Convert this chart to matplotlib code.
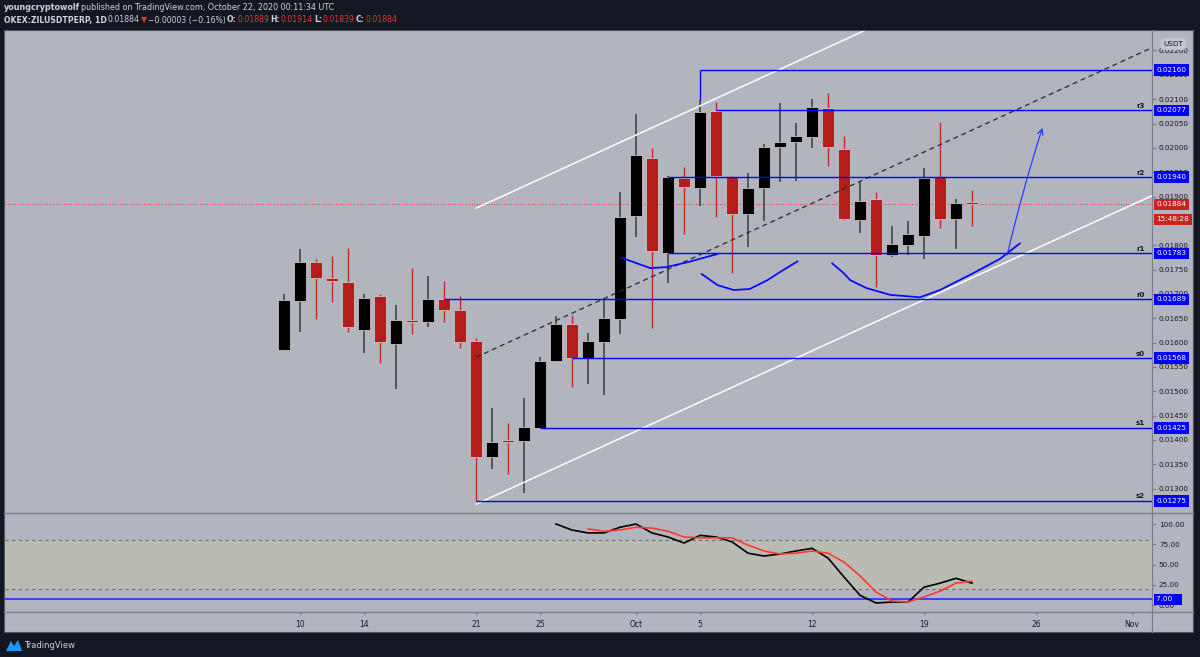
import numpy as np
import pandas as pd
import matplotlib
matplotlib.use("Agg")
import matplotlib.pyplot as plt
import matplotlib.dates as mdates
from matplotlib.patches import Rectangle, Polygon
from matplotlib.lines import Line2D
from matplotlib.transforms import blended_transform_factory

W, H = 1200, 657

# daily candles, OKEX:ZILUSDTPERP
dates = pd.date_range("2020-09-09", "2020-10-22", freq="D")
opens = [0.01585, 0.01685, 0.01765, 0.01733, 0.01724, 0.01626, 0.01696, 0.01597, 0.01646, 0.01642,
         0.01689, 0.01667, 0.01603, 0.01365, 0.01397, 0.01398, 0.01425, 0.01562, 0.01638, 0.01568,
         0.01601, 0.01648, 0.01860, 0.01979, 0.01783, 0.01938, 0.01918, 0.02076, 0.01940, 0.01864,
         0.01918, 0.02002, 0.02012, 0.02022, 0.02082, 0.01998, 0.01852, 0.01895, 0.01780, 0.01800,
         0.01819, 0.01940, 0.01854, 0.01889]
highs = [0.01700, 0.01792, 0.01772, 0.01778, 0.01794, 0.01700, 0.01700, 0.01677, 0.01753, 0.01737,
         0.01726, 0.01696, 0.01609, 0.01465, 0.01435, 0.01486, 0.01570, 0.01654, 0.01656, 0.01620,
         0.01689, 0.01909, 0.02070, 0.02000, 0.01942, 0.01961, 0.02098, 0.02094, 0.01942, 0.01948,
         0.02008, 0.02092, 0.02051, 0.02100, 0.02113, 0.02024, 0.01932, 0.01909, 0.01839, 0.01850,
         0.01959, 0.02053, 0.01895, 0.01914]
lows = [0.01585, 0.01622, 0.01648, 0.01683, 0.01622, 0.01578, 0.01558, 0.01504, 0.01617, 0.01632,
        0.01642, 0.01589, 0.01275, 0.01340, 0.01330, 0.01291, 0.01424, 0.01560, 0.01509, 0.01515,
        0.01492, 0.01617, 0.01817, 0.01630, 0.01722, 0.01823, 0.01880, 0.01858, 0.01743, 0.01797,
        0.01850, 0.01930, 0.01932, 0.02000, 0.01963, 0.01852, 0.01825, 0.01714, 0.01776, 0.01780,
        0.01772, 0.01835, 0.01792, 0.01839]
closes = [0.01687, 0.01765, 0.01733, 0.01726, 0.01632, 0.01691, 0.01601, 0.01646, 0.01642, 0.01689,
          0.01667, 0.01601, 0.01365, 0.01396, 0.01395, 0.01426, 0.01562, 0.01638, 0.01568, 0.01603,
          0.01650, 0.01858, 0.01985, 0.01788, 0.01940, 0.01920, 0.02074, 0.01942, 0.01864, 0.01918,
          0.02002, 0.02012, 0.02024, 0.02084, 0.02002, 0.01854, 0.01891, 0.01780, 0.01802, 0.01823,
          0.01938, 0.01854, 0.01887, 0.01884]
last_price = 0.01884

# stoch rsi (lower pane)
k_dates = pd.date_range("2020-09-26", "2020-10-22", freq="D")
stoch_k = [100, 92.6, 89, 89, 96, 100, 89, 84, 76.5, 86, 84, 78, 64, 60.5, 63, 66.7, 70, 58,
           34.6, 12, 2.5, 3.7, 3.7, 22, 27, 33, 27]
d_dates = pd.date_range("2020-09-28", "2020-10-22", freq="D")
stoch_d = [94, 91, 92.6, 96, 95, 91, 84, 83, 83, 83, 74, 66.7, 63, 64, 66.7, 64, 53, 36, 16, 5,
           3.7, 10, 17, 27, 29.6]
stoch_level = 7.00

# horizontal levels drawn by the author: (name, price, start date)
level_names = ["", "r3", "r2", "r1", "r0", "s0", "s1", "s2"]
level_prices = [0.02160, 0.02077, 0.01940, 0.01783, 0.01689, 0.01568, 0.01425, 0.01275]
level_starts = ["2020-10-05", "2020-10-06", "2020-10-03", "2020-10-03", "2020-09-19",
                "2020-09-27", "2020-09-25", "2020-09-21"]

# drawings, x in days after Sep 9
chan_x = [12, 54.2]
chan_upper = [0.01876, 0.02510]
chan_mid = [0.01570, 0.02205]
chan_lower = [0.01268, 0.01901]
curve1_x = [21.1, 22.9, 23.9, 25.2, 27.1]
curve1_y = [0.01774, 0.01753, 0.01755, 0.01765, 0.01782]
curve2_x = [26.1, 27.1, 28.1, 29.1, 30.2, 31.2, 32.1]
curve2_y = [0.01741, 0.01718, 0.01708, 0.01710, 0.01728, 0.01749, 0.01767]
curve3_x = [34.25, 34.9, 35.4, 36.4, 37.9, 39.75, 41.0, 43.1, 44.75, 46.0]
curve3_y = [0.01763, 0.01745, 0.01728, 0.01712, 0.01698, 0.01693, 0.01708, 0.01743, 0.01772, 0.01804]
arrow_from = (45.2, 0.01780)
arrow_to = (47.4, 0.02041)

tick_dates = ["2020-09-10", "2020-09-14", "2020-09-21", "2020-09-25", "2020-10-01",
              "2020-10-05", "2020-10-12", "2020-10-19", "2020-10-26", "2020-11-01"]
tick_labels = ["10", "14", "21", "25", "Oct", "5", "12", "19", "26", "Nov"]

BG = "#131722"
PANEL = "#b2b5be"
BLUE = "#0000ff"
RED = "#b71c1c"
AXC = "#7b7e88"
TXT = "#131722"
FS = 5.2

fig = plt.figure(figsize=(W / 100, H / 100), dpi=100, facecolor=BG)
fig.patches.append(Rectangle((4 / W, 1 - 632 / H), 1189 / W, 602 / H, transform=fig.transFigure,
                             fc=PANEL, ec="#50535e", lw=0.8, zorder=-5))

ax = fig.add_axes([5 / W, 1 - 513 / H, 1147 / W, 482 / H])
ax2 = fig.add_axes([5 / W, 1 - 612 / H, 1147 / W, 99 / H], sharex=ax)
for a in (ax, ax2):
    a.set_facecolor("none")
    a.set_zorder(2)
    for s in a.spines.values():
        s.set_visible(False)

x = mdates.date2num(dates.to_pydatetime())
x0 = x[0]
ax.set_xlim(x0 - 17.44, x0 + 54.25)
ax.set_ylim(0.01250, 0.02240)
ax2.set_ylim(-8.6, 113.6)

# candles
o, h, l, c = map(np.array, (opens, highs, lows, closes))
up = c >= o
body_lo = np.minimum(o, c)
body_h = np.maximum(np.abs(c - o), 0.00004)
ax.vlines(x[up], l[up], h[up], color="#3c3c3c", lw=1.1, zorder=3)
ax.vlines(x[~up], l[~up], h[~up], color="#c62828", lw=1.0, zorder=3)
ax.bar(x[up], body_h[up], 0.7, body_lo[up], color="black", edgecolor="#d6d6d6", lw=0.5, zorder=4)
ax.bar(x[~up], body_h[~up], 0.7, body_lo[~up], color=RED, edgecolor="#d6d6d6", lw=0.5, zorder=4)

# channel
cx = [x0 + v for v in chan_x]
ax.plot(cx, chan_upper, color="white", lw=1.1, zorder=5)
ax.plot(cx, chan_lower, color="white", lw=1.1, zorder=5)
ax.plot(cx, chan_mid, color="#2a2a2a", lw=0.9, ls=(0, (4, 3)), zorder=5)

# last price line
ax.axhline(last_price, color="#e53935", lw=0.7, ls=(0, (1, 1.5)), zorder=2)

tr = blended_transform_factory(ax.transAxes, ax.transData)


def axis_label(a, trans, y, s, fc, dy=0):
    a.annotate(s, (1, y), xycoords=trans, xytext=(3.2, dy), textcoords="offset points",
               ha="left", va="center", fontsize=FS, color="white", annotation_clip=False,
               bbox=dict(boxstyle="square,pad=0.38", fc=fc, ec="none"), zorder=10)


# levels
xmax = ax.get_xlim()[1]
for name, p, st in zip(level_names, level_prices, level_starts):
    xs = mdates.date2num(pd.Timestamp(st).to_pydatetime())
    ax.hlines(p, xs, xmax, color=BLUE, lw=1.0, zorder=6)
    if name:
        ax.annotate(name, (1, p), xycoords=tr, xytext=(-5, 1), textcoords="offset points",
                    ha="right", va="bottom", fontsize=5, fontweight="bold", color=TXT)
    axis_label(ax, tr, p, f"{p:.5f}", BLUE)
# connector of the top ray to the Oct 5 high
x_oct5 = mdates.date2num(pd.Timestamp(level_starts[0]).to_pydatetime())
ax.vlines(x_oct5, highs[26], level_prices[0], color=BLUE, lw=1.0, zorder=6)

# price + countdown labels
axis_label(ax, tr, last_price, f"{last_price:.5f}", "#c8231e")
axis_label(ax, tr, last_price, "15:48:28", "#c8231e", dy=-10.8)

# hand drawn curves
for cxs, cys in ((curve1_x, curve1_y), (curve2_x, curve2_y), (curve3_x, curve3_y)):
    ax.plot([x0 + v for v in cxs], cys, color="#0a0aff", lw=1.3, zorder=7, solid_capstyle="round")
ax.annotate("", xy=(x0 + arrow_to[0], arrow_to[1]), xytext=(x0 + arrow_from[0], arrow_from[1]),
            arrowprops=dict(arrowstyle="->", color="#2a3cff", lw=0.9, shrinkA=0, shrinkB=0,
                            connectionstyle="arc3,rad=-0.02"), zorder=7)

# price axis (0.01850 sits under the countdown box)
yt = np.arange(0.0130, 0.02201, 0.0005)
ax.yaxis.tick_right()
ax.set_yticks(yt)
ax.set_yticklabels(["" if abs(v - 0.0185) < 1e-7 else f"{v:.5f}" for v in yt])
ax.tick_params(axis="y", labelsize=FS, length=3, color=AXC, labelcolor=TXT, pad=2)
ax.tick_params(axis="x", bottom=False, labelbottom=False)
ax.text(1.0185, 0.973, "USDT", transform=ax.transAxes, fontsize=FS, color=TXT, ha="center", va="center",
        bbox=dict(boxstyle="round,pad=0.4,rounding_size=0.4", fc="#c3c6cd", ec="none"))

# lower pane
ax2.axhspan(20, 80, color="#babcb4", zorder=0)
ax2.axhline(80, color="#6a6d75", lw=0.8, ls=(0, (3, 3)))
ax2.axhline(20, color="#6a6d75", lw=0.8, ls=(0, (3, 3)))
ax2.axhline(stoch_level, color="#3c3cff", lw=1.4)
ax2.plot(mdates.date2num(k_dates.to_pydatetime()), stoch_k, color="black", lw=1.2)
ax2.plot(mdates.date2num(d_dates.to_pydatetime()), stoch_d, color="#ff3b2f", lw=1.2)
ax2.yaxis.tick_right()
ax2.set_yticks([0, 25, 50, 75, 100])
ax2.yaxis.set_major_formatter(plt.FormatStrFormatter("%.2f"))
ax2.tick_params(axis="y", labelsize=FS, length=3, color=AXC, labelcolor=TXT, pad=2)
tr2 = blended_transform_factory(ax2.transAxes, ax2.transData)
axis_label(ax2, tr2, stoch_level, f"{stoch_level:.2f}   ", BLUE)
ax2.set_xticks(mdates.date2num([pd.Timestamp(d).to_pydatetime() for d in tick_dates]))
ax2.set_xticklabels(tick_labels)
ax2.tick_params(axis="x", labelsize=5.5, length=2, color=AXC, labelcolor=TXT, pad=3.5)

# pane separators
for yy in (513, 612):
    fig.add_artist(Line2D([4 / W, 1193 / W], [1 - yy / H, 1 - yy / H], color=AXC, lw=1.0, zorder=1))
fig.add_artist(Line2D([1152 / W, 1152 / W], [1 - 30 / H, 1 - 632 / H], color=AXC, lw=0.8, zorder=1))

# header
WHITE = "#d1d4dc"
HRED = "#e53935"


def text_run(px, py, pieces, size=6):
    r = fig.canvas.get_renderer()
    for s, col, wt in pieces:
        t = fig.text(px / W, 1 - py / H, s, color=col, fontsize=size, fontweight=wt, ha="left", va="center")
        px = t.get_window_extent(r).x1 + 1


text_run(4, 8, [("youngcryptowolf", WHITE, "bold"),
                ("published on TradingView.com, October 22, 2020 00:11:34 UTC", WHITE, "normal")], size=5.8)
text_run(4, 20, [("OKEX:ZILUSDTPERP, 1D", WHITE, "bold"), ("0.01884", WHITE, "normal"),
                 ("▼", HRED, "normal"), ("\u22120.00003 (\u22120.16%)", WHITE, "normal"),
                 ("O:", WHITE, "bold"), ("0.01889", HRED, "normal"),
                 ("H:", WHITE, "bold"), ("0.01914", HRED, "normal"),
                 ("L:", WHITE, "bold"), ("0.01839", HRED, "normal"),
                 ("C:", WHITE, "bold"), ("0.01884", HRED, "normal")], size=5.6)

# footer logo
fig.patches.append(Polygon([[6 / W, 1 - 651 / H], [11 / W, 1 - 641 / H], [14 / W, 1 - 646 / H],
                            [18 / W, 1 - 640 / H], [22 / W, 1 - 651 / H]], closed=True,
                           transform=fig.transFigure, fc="#2196f3", ec="none"))
fig.text(24 / W, 1 - 646 / H, "TradingView", color=WHITE, fontsize=6, ha="left", va="center")

fig.savefig("out.png", dpi=100, facecolor=BG)
